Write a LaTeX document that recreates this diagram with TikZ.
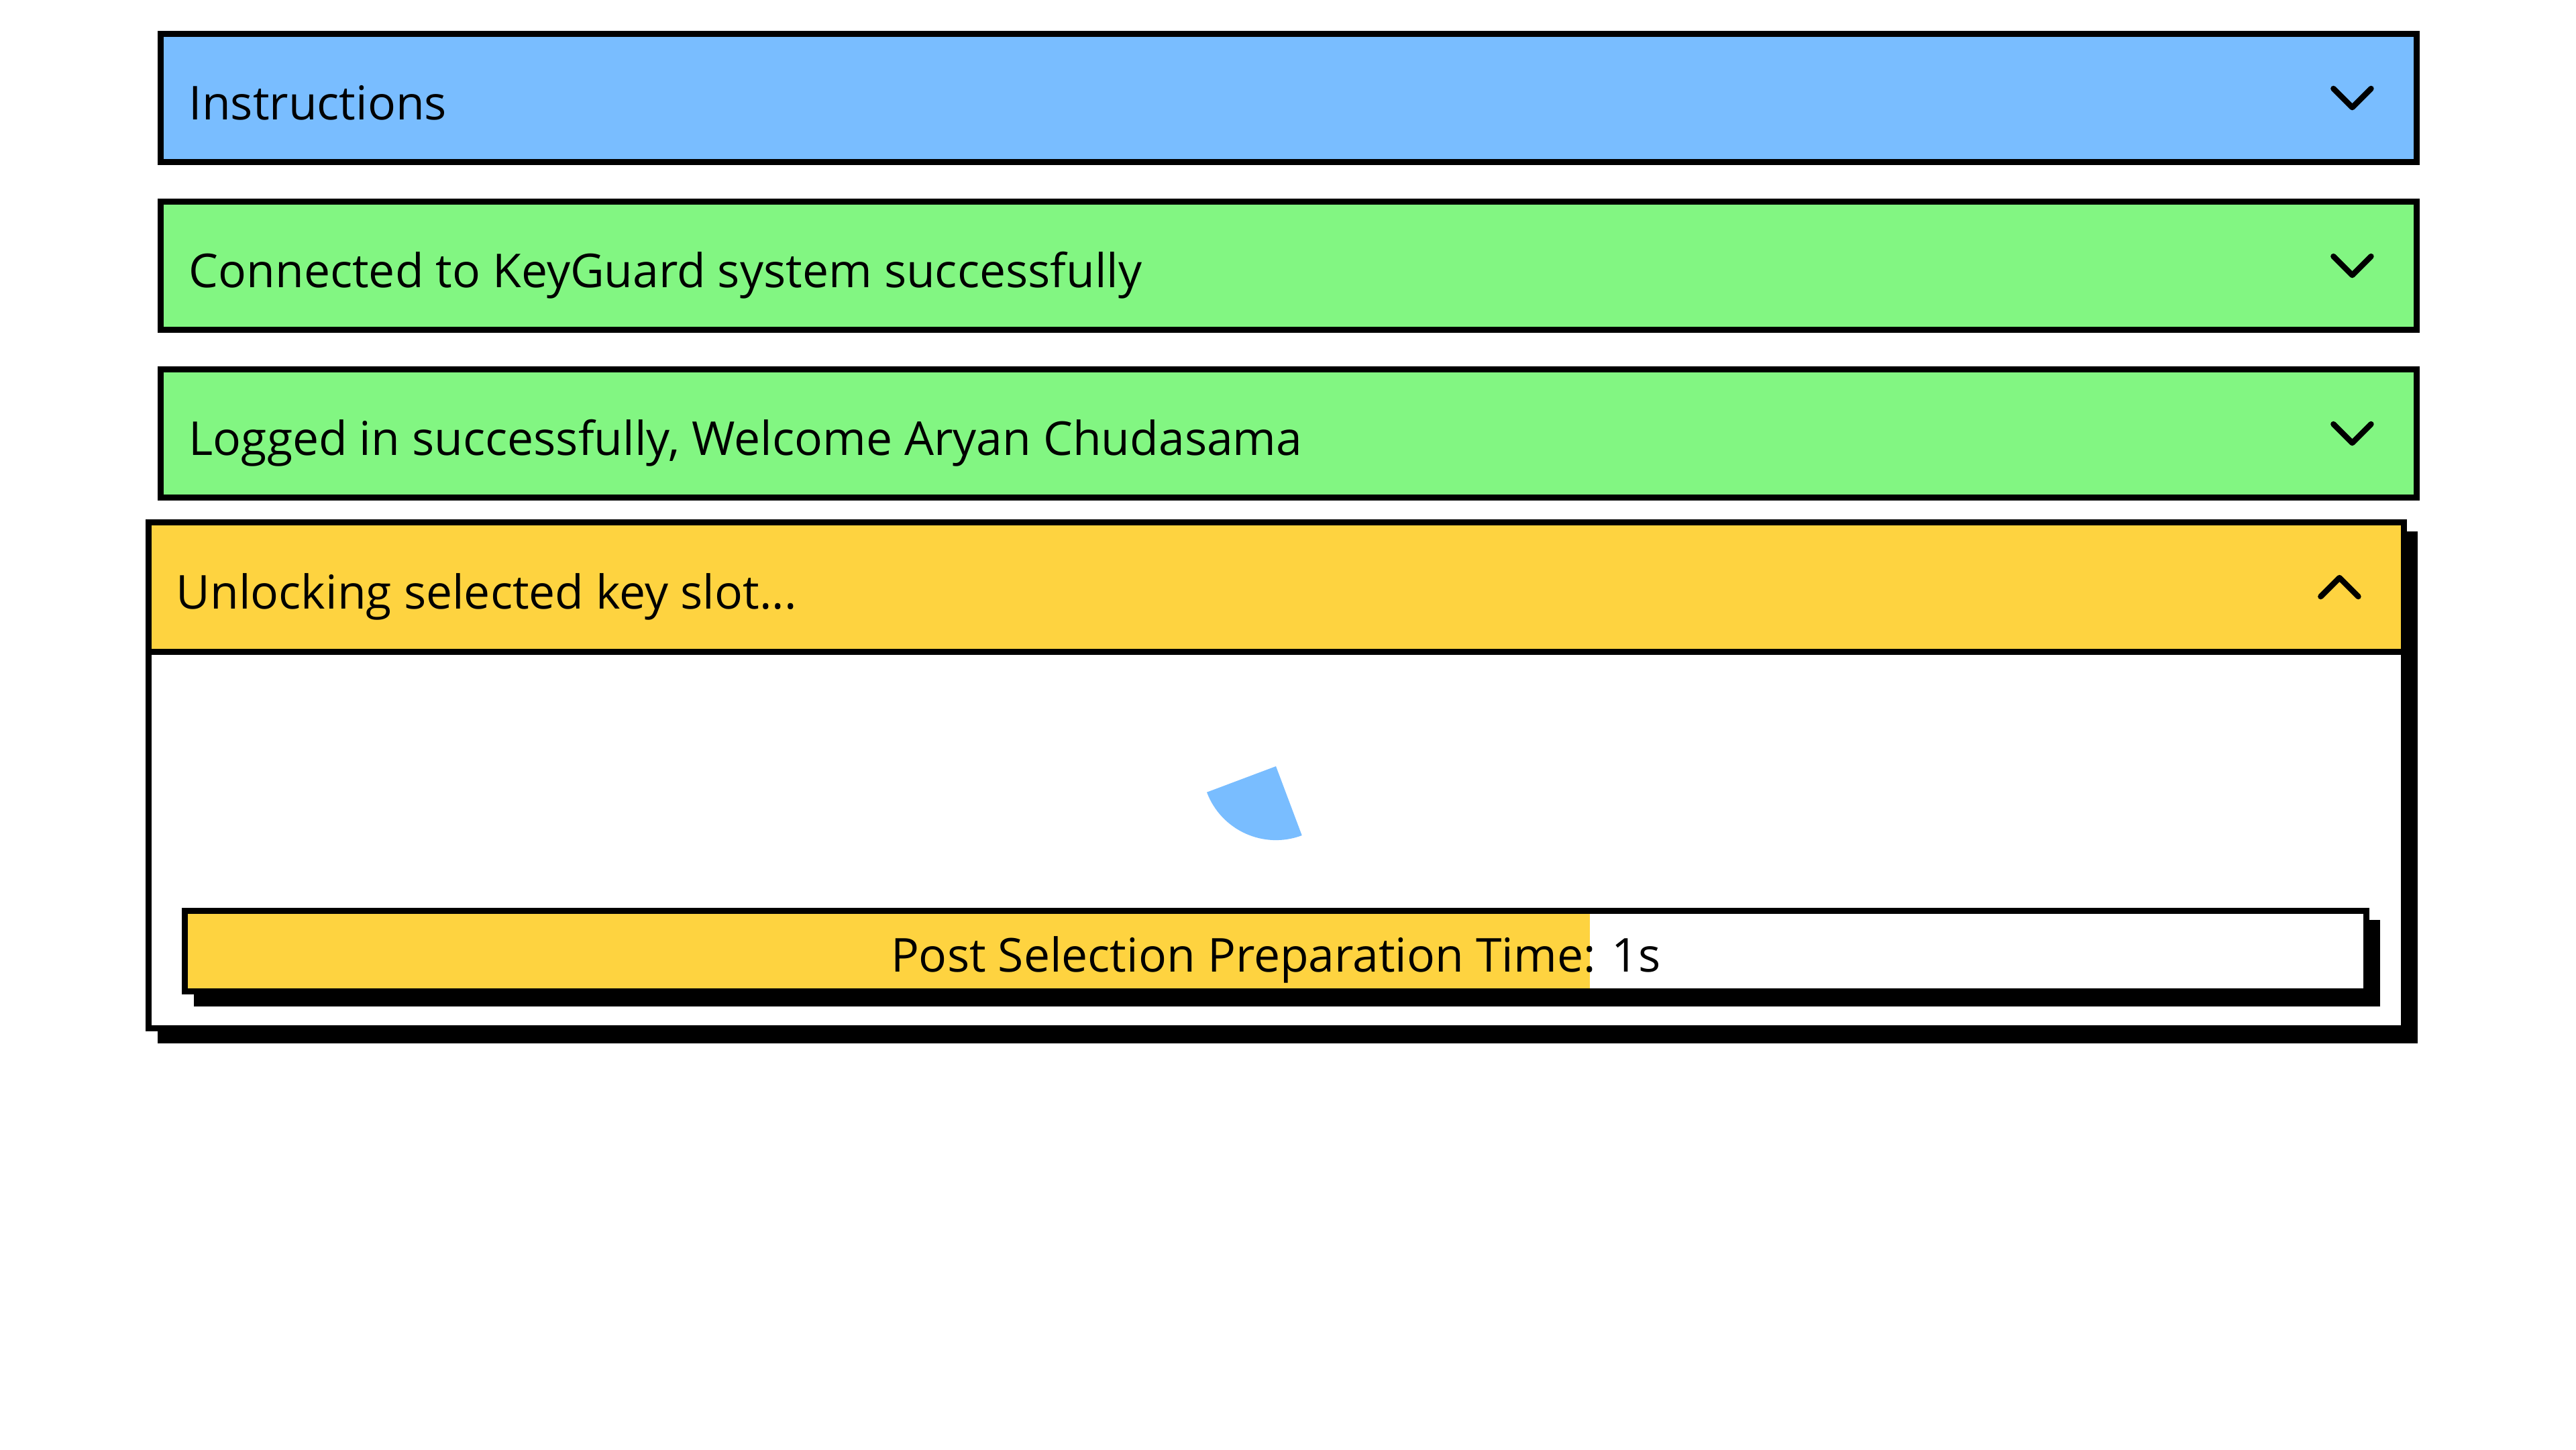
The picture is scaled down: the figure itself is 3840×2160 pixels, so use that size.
\documentclass[tikz,border=0pt]{standalone}
\usepackage{fontspec}
\setmainfont{Open Sans}
\definecolor{infoblue}{RGB}{121,189,255}
\definecolor{okgreen}{RGB}{130,246,130}
\definecolor{busyyellow}{RGB}{254,211,64}

\begin{document}
\begin{tikzpicture}[x=0.01cm,y=-0.01cm,
  box/.style={draw=black,line width=0.09cm,minimum width=33.61cm,minimum height=1.91cm,
    inner sep=0pt,outer sep=0pt,anchor=north west},
  label/.style={anchor=base west,inner sep=0pt,font=\fontsize{19.8}{24}\selectfont},
  chev/.style={line width=0.085cm,line cap=round,line join=round}]
\useasboundingbox (0,0) rectangle (3840,2160);
%\draw[step=100,gray,very thin] (0,0) grid (3840,2160);
\node[box,fill=infoblue] (instr) at (239.5,50.5) {};
\node[label] (instrtxt) at (281,178) {Instructions};
\draw[chev] ([xshift=-1.24cm,yshift=0.14cm]instr.east) -- ++(0.28cm,-0.28cm) -- ++(0.28cm,0.28cm);
\node[box,fill=okgreen] (conn) at (239.5,300.5) {};
\node[label] (conntxt) at (281,428) {Connected to KeyGuard system successfully};
\draw[chev] ([xshift=-1.24cm,yshift=0.14cm]conn.east) -- ++(0.28cm,-0.28cm) -- ++(0.28cm,0.28cm);
\node[box,fill=okgreen] (login) at (239.5,550.5) {};
\node[label] (logintxt) at (281,678) {Logged in successfully, Welcome Aryan Chudasama};
\draw[chev] ([xshift=-1.24cm,yshift=0.14cm]login.east) -- ++(0.28cm,-0.28cm) -- ++(0.28cm,0.28cm);

% open panel with its shadow
\fill (235,792) rectangle (3604,1555);
\node[box,fill=white,minimum width=33.6cm,minimum height=7.54cm] (panel) at (221.5,778.5) {};
\node[box,fill=busyyellow,minimum width=33.6cm,minimum height=1.93cm] (head) at (221.5,778.5) {};
\node[label] (headtxt) at (262,907) {Unlocking selected key slot...};
\draw[chev] ([xshift=-1.24cm,yshift=-0.14cm]head.east) -- ++(0.28cm,0.28cm) -- ++(0.28cm,-0.28cm);

% spinner
\coordinate (spin) at (1902,1142);
\fill[infoblue] (spin) -- ++(200.6:1.1cm) arc[start angle=200.6,end angle=290.6,radius=1.1cm] -- cycle;

% progress bar
\fill (289,1371) rectangle (3548,1500);
\node[box,fill=white,minimum width=32.5cm,minimum height=1.2cm] (prog) at (275.5,1357.5) {};
\fill[busyyellow] (280,1362) rectangle (2370,1473);
\node[label,anchor=base] (progtxt) at (1902,1448) {Post Selection Preparation Time: 1s};
\end{tikzpicture}
\end{document}
